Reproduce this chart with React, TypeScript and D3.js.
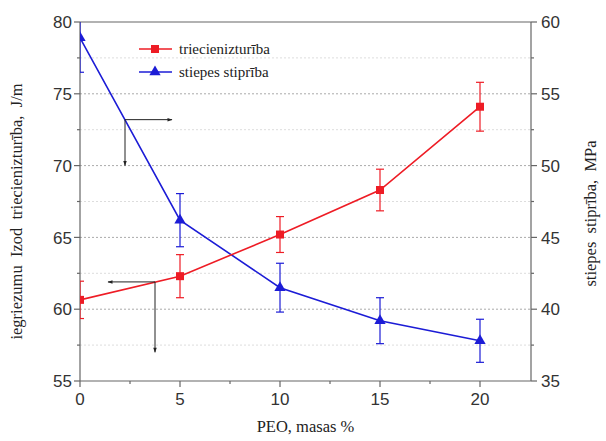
import React from "react";
import * as d3 from "d3";

const peo = [0, 5, 10, 15, 20];
const impact = [60.65, 62.3, 65.2, 68.3, 74.1];
const impactErr = [1.3, 1.5, 1.25, 1.45, 1.7];
const tensile = [58.9, 46.2, 41.5, 39.2, 37.8];
const tensileErr = [2.4, 1.85, 1.7, 1.6, 1.5];
const xTicks = [0, 5, 10, 15, 20];
const leftTicks = [55, 60, 65, 70, 75, 80];
const rightTicks = [35, 40, 45, 50, 55, 60];
const seriesNames = ["triecienizturība", "stiepes stiprība"];

const W = 606, H = 441;
const L = 80, R = 531, T = 22, B = 381;
const RED = "#ee1c25";
const BLUE = "#1c1cd6";
const AX = "#666";

export default function App() {
  const x = d3.scaleLinear().domain([0, 22.55]).range([L, R]);
  const yL = d3.scaleLinear().domain([55, 80]).range([B, T]);
  const yR = d3.scaleLinear().domain([35, 60]).range([B, T]);
  const lineL = d3.line<number>().x((_, i) => x(peo[i])).y((d) => yL(d));
  const lineR = d3.line<number>().x((_, i) => x(peo[i])).y((d) => yR(d));
  const minorL = d3.range(57.5, 80, 5);
  const minorX = d3.range(2.5, 22.5, 5);
  const tri = d3.symbol().type(d3.symbolTriangle).size(55)();
  const tickFont = "'Liberation Sans', Arial, sans-serif";
  const serif = "'Liberation Serif', 'Times New Roman', serif";

  return (
    <svg width={W} height={H} style={{ position: "absolute", left: 0, top: 0 }}>
      <defs>
        <clipPath id="plot">
          <rect x={L} y={T} width={R - L} height={B - T} />
        </clipPath>
        <marker id="arr" viewBox="0 0 10 10" refX="9" refY="5" markerWidth="6" markerHeight="5" orient="auto">
          <path d="M0,1.5 L10,5 L0,8.5 Z" fill="#222" />
        </marker>
      </defs>
      <rect width={W} height={H} fill="#fff" />
      {leftTicks.filter((t) => t > 55 && t < 80).map((t) => (
        <line key={"g" + t} x1={L} x2={R} y1={yL(t)} y2={yL(t)} stroke="#aaa" strokeDasharray="2,2" strokeWidth={1} />
      ))}
      {minorL.map((t) => (
        <line key={"gm" + t} x1={L} x2={R} y1={yL(t)} y2={yL(t)} stroke="#ddd" strokeDasharray="2,2" strokeWidth={1} />
      ))}
      <line x1={L} x2={R} y1={T} y2={T} stroke={AX} strokeWidth={1.2} />
      <line x1={L} x2={R} y1={B} y2={B} stroke={AX} strokeWidth={1.2} />
      <line x1={L} x2={L} y1={T} y2={B} stroke={AX} strokeWidth={1.2} />
      <line x1={R} x2={R} y1={T} y2={B} stroke={AX} strokeWidth={1.2} />
      {leftTicks.map((t) => (
        <g key={"l" + t}>
          <line x1={L - 6} x2={L} y1={yL(t)} y2={yL(t)} stroke={AX} strokeWidth={1.2} />
          <text x={L - 8} y={yL(t)} dy="0.36em" textAnchor="end" fontFamily={tickFont} fontSize={17} fill="#333">{t}</text>
        </g>
      ))}
      {minorL.map((t) => (
        <line key={"lm" + t} x1={L - 3} x2={L} y1={yL(t)} y2={yL(t)} stroke={AX} strokeWidth={1.2} />
      ))}
      {rightTicks.map((t) => (
        <g key={"r" + t}>
          <line x1={R} x2={R + 6} y1={yR(t)} y2={yR(t)} stroke={AX} strokeWidth={1.2} />
          <text x={R + 10} y={yR(t)} dy="0.36em" textAnchor="start" fontFamily={tickFont} fontSize={17} fill="#333">{t}</text>
        </g>
      ))}
      {d3.range(37.5, 60, 5).map((t) => (
        <line key={"rm" + t} x1={R} x2={R + 3} y1={yR(t)} y2={yR(t)} stroke={AX} strokeWidth={1.2} />
      ))}
      {xTicks.map((t) => (
        <g key={"x" + t}>
          <line x1={x(t)} x2={x(t)} y1={B} y2={B + 6} stroke={AX} strokeWidth={1.2} />
          <text x={x(t)} y={B + 24} textAnchor="middle" fontFamily={tickFont} fontSize={17} fill="#333">{t}</text>
        </g>
      ))}
      {minorX.map((t) => (
        <line key={"xm" + t} x1={x(t)} x2={x(t)} y1={B} y2={B + 3} stroke={AX} strokeWidth={1.2} />
      ))}
      <g clipPath="url(#plot)">
        <path d={lineR(tensile) || ""} fill="none" stroke={BLUE} strokeWidth={1.6} />
        {tensile.map((v, i) => (
          <g key={"be" + i} stroke={BLUE} strokeWidth={1.2}>
            <line x1={x(peo[i])} x2={x(peo[i])} y1={yR(v + tensileErr[i])} y2={yR(v - tensileErr[i])} />
            <line x1={x(peo[i]) - 4} x2={x(peo[i]) + 4} y1={yR(v + tensileErr[i])} y2={yR(v + tensileErr[i])} />
            <line x1={x(peo[i]) - 4} x2={x(peo[i]) + 4} y1={yR(v - tensileErr[i])} y2={yR(v - tensileErr[i])} />
          </g>
        ))}
        {tensile.map((v, i) => (
          <path key={"bm" + i} d={tri || ""} transform={`translate(${x(peo[i])},${yR(v)})`} fill={BLUE} />
        ))}
        <path d={lineL(impact) || ""} fill="none" stroke={RED} strokeWidth={1.6} />
        {impact.map((v, i) => (
          <g key={"re" + i} stroke={RED} strokeWidth={1.2}>
            <line x1={x(peo[i])} x2={x(peo[i])} y1={yL(v + impactErr[i])} y2={yL(v - impactErr[i])} />
            <line x1={x(peo[i]) - 4} x2={x(peo[i]) + 4} y1={yL(v + impactErr[i])} y2={yL(v + impactErr[i])} />
            <line x1={x(peo[i]) - 4} x2={x(peo[i]) + 4} y1={yL(v - impactErr[i])} y2={yL(v - impactErr[i])} />
          </g>
        ))}
        {impact.map((v, i) => (
          <rect key={"rm" + i} x={x(peo[i]) - 4} y={yL(v) - 4} width={8} height={8} fill={RED} />
        ))}
      </g>
      <g stroke="#222" strokeWidth={1}>
        <line x1={x(2.25)} y1={yR(53.2)} x2={x(4.6)} y2={yR(53.2)} markerEnd="url(#arr)" />
        <line x1={x(2.25)} y1={yR(53.2)} x2={x(2.25)} y2={yR(50.0)} markerEnd="url(#arr)" />
        <line x1={x(3.75)} y1={yL(61.9)} x2={x(1.4)} y2={yL(61.9)} markerEnd="url(#arr)" />
        <line x1={x(3.75)} y1={yL(61.9)} x2={x(3.75)} y2={yL(57.0)} markerEnd="url(#arr)" />
      </g>
      <g>
        <line x1={139} x2={172} y1={49} y2={49} stroke={RED} strokeWidth={1.4} />
        <rect x={151} y={45} width={8} height={8} fill={RED} />
        <text x={179} y={49} dy="0.35em" fontFamily={serif} fontSize={15} fill="#222">{seriesNames[0]}</text>
        <line x1={139} x2={172} y1={72} y2={72} stroke={BLUE} strokeWidth={1.4} />
        <path d={tri || ""} transform="translate(155,72)" fill={BLUE} />
        <text x={179} y={72} dy="0.35em" fontFamily={serif} fontSize={15} fill="#222">{seriesNames[1]}</text>
      </g>
      <text transform={`translate(22,${(T + B) / 2 + 10}) rotate(-90)`} textAnchor="middle" fontFamily={serif} fontSize={16.5} fill="#222" style={{ whiteSpace: "pre" }}>
        {"iegriezumu  Izod  triecienizturība,  J/m"}
      </text>
      <text transform={`translate(596,${(T + B) / 2 + 12}) rotate(-90)`} textAnchor="middle" fontFamily={serif} fontSize={16.5} fill="#222" style={{ whiteSpace: "pre" }}>
        {"stiepes  stiprība,  MPa"}
      </text>
      <text x={(L + R) / 2} y={432} textAnchor="middle" fontFamily={serif} fontSize={16.5} fill="#222">PEO, masas %</text>
    </svg>
  );
}
